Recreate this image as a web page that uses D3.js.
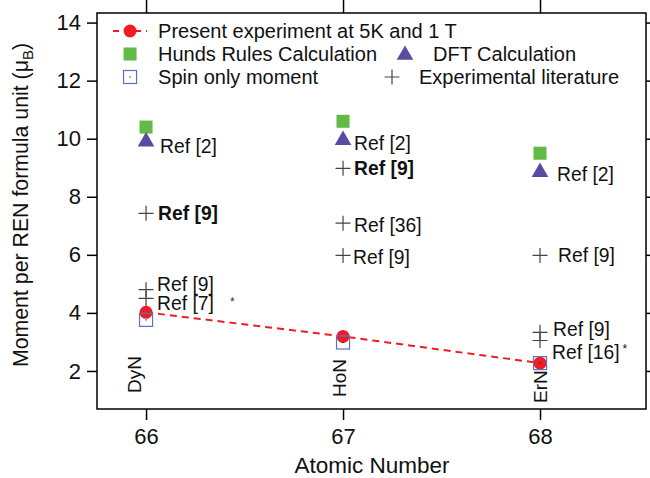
<!DOCTYPE html>
<html>
<head>
<meta charset="utf-8">
<script src="https://cdnjs.cloudflare.com/ajax/libs/d3/7.8.5/d3.min.js"></script>
<style>
  body { margin: 0; background: #fff; }
  svg { font-family: "Liberation Sans", Arial, Helvetica, sans-serif; }
</style>
</head>
<body>
<div id="chart"></div>
<script>
// data
var atomicNumbers = [66, 67, 68];
var compounds = ["DyN", "HoN", "ErN"];
var presentExp = [4.02, 3.19, 2.27];
var hundsRules = [10.4, 10.6, 9.5];
var dftCalc = [9.9, 9.95, 8.85];
var dftRefs = ["Ref [2]", "Ref [2]", "Ref [2]"];
var spinOnly = [3.76, 2.98, 2.27];

var litAtomic = [66, 66, 66, 67, 67, 67, 68, 68, 68];
var litMoment = [7.43, 4.8, 4.5, 8.98, 7.09, 5.98, 5.98, 3.33, 3.05];
var litRefs = ["Ref [9]", "Ref [9]", "Ref [7]", "Ref [9]", "Ref [36]", "Ref [9]", "Ref [9]", "Ref [9]", "Ref [16]"];
var litBold = [true, false, false, true, false, false, false, false, false];

var xTicks = [66, 67, 68];
var yTicks = [2, 4, 6, 8, 10, 12, 14];

// label nudges (pixels) so text does not sit on the markers
var litNudge = [[12, 0], [11, -6], [11, 5], [11, 0], [11, 2], [10, 2], [18, 0], [13, -3], [12, 12]];
var dftNudge = [[14, 4], [11, 3], [17, 2]];
var compNudge = [[-5, 393], [3, 397], [7, 403]];

var width = 650, height = 478;
var margin = {top: 13, right: 4, bottom: 69, left: 97};

var svg = d3.select("#chart").append("svg")
    .attr("width", width)
    .attr("height", height);

var x = d3.scaleLinear().domain([65.751, 68.538]).range([margin.left, width - margin.right]);
var y = d3.scaleLinear().domain([0.69, 14.33]).range([height - margin.bottom, margin.top]);

//axes, ticks outside on all four sides
svg.append("g")
    .attr("transform", "translate(0," + (height - margin.bottom) + ")")
    .call(d3.axisBottom(x).tickValues(xTicks).tickSize(11).tickPadding(8).tickFormat(d3.format("d")))
    .call(function(g) { g.selectAll("text").attr("font-size", 22).attr("fill", "#111"); });

svg.append("g")
    .attr("transform", "translate(0," + margin.top + ")")
    .call(d3.axisTop(x).tickValues(xTicks).tickSize(13).tickFormat(""));

svg.append("g")
    .attr("transform", "translate(" + margin.left + ",0)")
    .call(d3.axisLeft(y).tickValues(yTicks).tickSize(10).tickPadding(6))
    .call(function(g) { g.selectAll("text").attr("font-size", 22).attr("fill", "#111"); });

svg.append("g")
    .attr("transform", "translate(" + (width - margin.right) + ",0)")
    .call(d3.axisRight(y).tickValues(yTicks).tickSize(10).tickFormat(""));

svg.selectAll(".domain").remove();
svg.selectAll(".tick line").attr("stroke", "#000").attr("stroke-width", 1.5);

svg.append("rect")
    .attr("x", margin.left)
    .attr("y", margin.top)
    .attr("width", width - margin.left - margin.right)
    .attr("height", height - margin.top - margin.bottom)
    .attr("fill", "none")
    .attr("stroke", "#000")
    .attr("stroke-width", 1.5);

//axis titles
svg.append("text")
    .attr("x", 372)
    .attr("y", 473)
    .attr("text-anchor", "middle")
    .attr("font-size", 22.5)
    .attr("fill", "#111")
    .text("Atomic Number");

var yTitle = svg.append("text")
    .attr("transform", "translate(28," + 205 + ") rotate(-90)")
    .attr("text-anchor", "middle")
    .attr("font-size", 21.3)
    .attr("fill", "#111");
yTitle.append("tspan").text("Moment per REN formula unit (\u03bc");
yTitle.append("tspan").attr("font-size", 15).attr("dy", 5).text("B");
yTitle.append("tspan").attr("dy", -5).text(")");

var red = "#f01c24", green = "#62bb47", purple = "#5b4a9f", blue = "#5b72c2", plusColor = "#444";

//compound labels, rotated
svg.selectAll(".comp")
    .data(compounds)
    .enter().append("text")
    .attr("transform", function(d, i) {
      return "translate(" + (x(atomicNumbers[i]) + compNudge[i][0]) + "," + compNudge[i][1] + ") rotate(-90)";
    })
    .attr("font-size", 19)
    .attr("fill", "#111")
    .text(function(d) { return d; });

//present experiment dashed line
var line = d3.line()
    .x(function(d, i) { return x(atomicNumbers[i]); })
    .y(function(d) { return y(d); });

svg.append("path")
    .datum(presentExp)
    .attr("d", line)
    .attr("fill", "none")
    .attr("stroke", red)
    .attr("stroke-width", 2)
    .attr("stroke-dasharray", "7,5");

var sq = d3.symbol().type(d3.symbolSquare).size(170);
var tri = d3.symbol().type(d3.symbolTriangle).size(120);

//hunds rules squares
svg.selectAll(".hund")
    .data(hundsRules)
    .enter().append("path")
    .attr("transform", function(d, i) { return "translate(" + x(atomicNumbers[i]) + "," + y(d) + ")"; })
    .attr("d", sq)
    .attr("fill", green);

//dft triangles
svg.selectAll(".dft")
    .data(dftCalc)
    .enter().append("path")
    .attr("transform", function(d, i) { return "translate(" + x(atomicNumbers[i]) + "," + y(d) + ")"; })
    .attr("d", tri)
    .attr("fill", purple);

svg.selectAll(".dftlabel")
    .data(dftCalc)
    .enter().append("text")
    .attr("x", function(d, i) { return x(atomicNumbers[i]) + dftNudge[i][0]; })
    .attr("y", function(d, i) { return y(d) + dftNudge[i][1]; })
    .attr("dy", "0.36em")
    .attr("font-size", 19.3)
    .attr("fill", "#111")
    .text(function(d, i) { return dftRefs[i]; });

//experimental literature pluses
svg.selectAll(".lit")
    .data(litMoment)
    .enter().append("path")
    .attr("transform", function(d, i) { return "translate(" + x(litAtomic[i]) + "," + y(d) + ")"; })
    .attr("d", "M-7.5,0H7.5M0,-7.5V7.5")
    .attr("stroke", plusColor)
    .attr("stroke-width", 1.2)
    .attr("fill", "none");

var litText = svg.selectAll(".litlabel")
    .data(litMoment)
    .enter().append("text")
    .attr("x", function(d, i) { return x(litAtomic[i]) + litNudge[i][0]; })
    .attr("y", function(d, i) { return y(d) + litNudge[i][1]; })
    .attr("dy", "0.36em")
    .attr("font-size", 19.3)
    .attr("font-weight", function(d, i) { return litBold[i] ? "bold" : "normal"; })
    .attr("fill", "#111")
    .text(function(d, i) { return litRefs[i]; });

//asterisks: one sits far right of Ref [7], one is superscript after Ref [16]
svg.append("text")
    .attr("x", x(66) + 84)
    .attr("y", y(litMoment[2]) + 8)
    .attr("font-size", 12)
    .attr("fill", "#333")
    .text("*");
litText.filter(function(d, i) { return i === 8; })
    .append("tspan")
    .attr("dx", 3)
    .attr("dy", -6)
    .attr("font-size", 12)
    .text("*");

//present experiment circles
svg.selectAll(".pres")
    .data(presentExp)
    .enter().append("circle")
    .attr("cx", function(d, i) { return x(atomicNumbers[i]); })
    .attr("cy", function(d) { return y(d); })
    .attr("r", 6.5)
    .attr("fill", red);

//spin only open squares with centre dot
var spin = svg.selectAll(".spin")
    .data(spinOnly)
    .enter().append("g")
    .attr("transform", function(d, i) { return "translate(" + x(atomicNumbers[i]) + "," + y(d) + ")"; });
spin.append("rect")
    .attr("x", -6.5).attr("y", -6.5).attr("width", 13).attr("height", 13)
    .attr("fill", "none").attr("stroke", blue).attr("stroke-width", 1.2);
spin.append("rect")
    .attr("x", -0.6).attr("y", -0.6).attr("width", 1.2).attr("height", 1.2)
    .attr("fill", "#223");

//legend
var leg = svg.append("g");
var legX = x(66) - 16; // symbol column
var rowY = [31, 54, 77];

leg.append("line")
    .attr("x1", legX - 17).attr("x2", legX + 17)
    .attr("y1", rowY[0]).attr("y2", rowY[0])
    .attr("stroke", red).attr("stroke-width", 2).attr("stroke-dasharray", "6,5");
leg.append("circle").attr("cx", legX).attr("cy", rowY[0]).attr("r", 6.5).attr("fill", red);

leg.append("path").attr("transform", "translate(" + legX + "," + rowY[1] + ")").attr("d", sq).attr("fill", green);

var ls = leg.append("g").attr("transform", "translate(" + legX + "," + rowY[2] + ")");
ls.append("rect").attr("x", -6.5).attr("y", -6.5).attr("width", 13).attr("height", 13)
    .attr("fill", "none").attr("stroke", blue).attr("stroke-width", 1.2);
ls.append("rect").attr("x", -0.6).attr("y", -0.6).attr("width", 1.2).attr("height", 1.2).attr("fill", "#223");

leg.append("path").attr("transform", "translate(405," + (rowY[1] + 1) + ")").attr("d", tri).attr("fill", purple);
leg.append("path").attr("transform", "translate(392," + rowY[2] + ")")
    .attr("d", "M-7.5,0H7.5M0,-7.5V7.5").attr("stroke", plusColor).attr("stroke-width", 1.2);

var legendItems = [
  ["Present experiment at 5K and 1 T", legX + 28, rowY[0]],
  ["Hunds Rules Calculation", legX + 28, rowY[1]],
  ["DFT Calculation", 433, rowY[1]],
  ["Spin only moment", legX + 28, rowY[2]],
  ["Experimental literature", 419, rowY[2]]
];
leg.selectAll(".lt")
    .data(legendItems)
    .enter().append("text")
    .attr("x", function(d) { return d[1]; })
    .attr("y", function(d) { return d[2]; })
    .attr("dy", "0.36em")
    .attr("font-size", 20)
    .attr("fill", "#111")
    .text(function(d) { return d[0]; });
</script>
</body>
</html>
